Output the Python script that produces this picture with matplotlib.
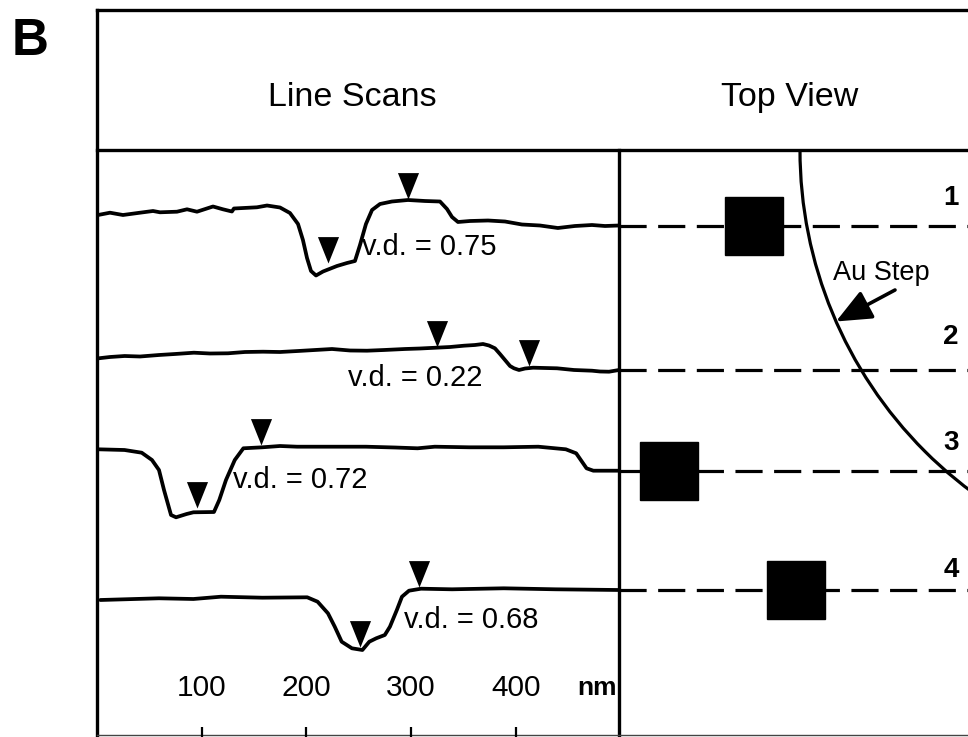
import matplotlib
matplotlib.use("Agg")
import matplotlib.pyplot as plt
from matplotlib.patches import Rectangle, Arc
from matplotlib.path import Path

plt.rcParams['font.family'] = ['Liberation Sans', 'DejaVu Sans']

# ---------------- data ----------------
# line scans: position along scan (nm) and relative height (a.u., 0 = right end level)
scan1_x = [1, 12.4, 24.8, 41.1, 53.5, 60.2, 76.4, 86.0, 95.5, 110.8, 120.3, 128.9, 130.8, 152.8,
           162.4, 174.8, 184.3, 192.0, 196.7, 200.6, 204.4, 209.2, 215.9, 229.2, 238.8, 246.4,
           251.2, 256.9, 262.7, 270.3, 281.7, 297.0, 313.3, 327.6, 334.3, 339.1, 344.8, 356.3,
           373.5, 389.7, 405.9, 423.1, 440.2, 456.5, 472.8, 485.2, 498.6]
scan1_z = [10.5, 12.8, 10.5, 12.8, 14.5, 13.2, 13.8, 16.2, 13.8, 19, 16.2, 14, 17, 18.2,
           20, 18, 12.5, 1.5, -14.5, -32.5, -45.5, -50, -46, -40.5, -37.5, -35.5,
           -19.5, 1.5, 15.5, 21.5, 24, 25.5, 24.5, 24, 16.5, 8.5, 3.5, 4.5,
           5, 4, 1, 0, -2.5, -0.5, 0.5, -0.5, 0]

scan2_x = [1.5, 12.4, 26.4, 41.1, 59.2, 74.5, 92.6, 107.9, 125.1, 141.3, 158.6, 174.8, 192,
           208.2, 224.5, 241.7, 257.9, 274.2, 294.2, 308.5, 323.8, 337.2, 350.5, 361, 368.7,
           374.4, 380.1, 384.9, 389.7, 394.5, 398.3, 403.1, 408.9, 416.5, 427.9, 439.4, 455.6,
           472.8, 480.5, 489.1, 498.6]
scan2_z = [11.7, 13, 14, 13.5, 15, 16, 17.3, 16.5, 16.7, 18, 18.3, 18, 19,
           20, 21, 19.5, 19.3, 20, 21, 21.5, 22.3, 23, 24.3, 25, 26,
           24.5, 21.7, 16, 10, 4, 1.7, 0, 1.5, 2.3, 2, 1.7, 0,
           -0.7, -1.5, -1.7, 0]

scan3_x = [1, 26.3, 42.7, 52.5, 59.2, 64, 70.7, 75.5, 85.6, 92.1, 111.7, 116.8, 123.2, 131.6,
           139.8, 158, 174.8, 191.1, 223.9, 256.8, 284.6, 306.2, 322.6, 355.6, 388.5, 421.5,
           447.8, 457.7, 467.6, 474.1, 498.6]
scan3_z = [21.4, 20.7, 18, 10.7, 0.7, -19.3, -44.3, -46.6, -43.3, -41.6, -41.3, -29.3, -9.3, 10.7,
           22.4, 23.4, 24.7, 24, 24, 24, 23.2, 22.4, 24, 23.4, 23.4, 24,
           21.4, 17.4, 2.4, 0, 0]

scan4_x = [3.2, 26.3, 59.2, 92.1, 118.4, 158, 200.8, 210.7, 220.6, 227.1, 233.7, 243.5, 253.5,
           260.1, 266.7, 274.9, 279.8, 286.4, 291.3, 298, 309.5, 339.1, 388.5, 437.9, 498.2]
scan4_z = [-10, -9.3, -8.3, -9, -6.7, -7.7, -7.3, -11.7, -23.3, -36.7, -51.7, -58.3, -60,
           -51.7, -48.3, -45, -36.7, -20, -6.7, -0.7, 1.3, 0.7, 1.7, 0.7, 0]

# arrowhead markers (tip position: nm, relative height)
marker_x = [[297.0, 220.3], [324.7, 413.0], [157.1, 95.9], [308.0, 251.5]]
marker_z = [[26.5, -37.5], [23.3, 4.0], [25.7, -37.3], [3.3, -56.7]]

vd_labels = ["v.d. = 0.75", "v.d. = 0.22", "v.d. = 0.72", "v.d. = 0.68"]
scan_numbers = ["1", "2", "3", "4"]
tick_values = [100, 200, 300, 400]

# top view: tip positions (x in top-view units); scan 2 has no tip
tip_x = [134.5, None, 50.0, 176.5]

# ---------------- layout ----------------
W, H = 968, 737
fig = plt.figure(figsize=(W / 100, H / 100), dpi=100)

# frame axes in pixel coordinates
axf = fig.add_axes([0, 0, 1, 1])
axf.set_xlim(0, W)
axf.set_ylim(H, 0)
axf.axis('off')
LW = 2.4
axf.plot([97, 97], [9.5, 737], color='black', lw=LW, solid_capstyle='projecting')
axf.plot([97, 968], [9.5, 9.5], color='black', lw=LW)
axf.plot([97, 968], [150, 150], color='black', lw=LW)
axf.plot([619, 619], [150, 737], color='black', lw=LW)
axf.plot([97, 968], [735, 735], color='#444444', lw=1.0)

axf.text(30, 41, "B", fontsize=37, fontweight='bold', va='center', ha='center')
axf.text(352, 97, "Line Scans", fontsize=24.5, va='center', ha='center')
axf.text(790, 97, "Top View", fontsize=24.5, va='center', ha='center')

# scan axes
panel_h = (737 - 150) / H
axs = fig.add_axes([97 / W, 0, (619 - 97) / W, panel_h])
axs.set_xlim(0, 498.6)
axs.set_ylim(0, 587)
axs.patch.set_alpha(0)
for sp in axs.spines.values():
    sp.set_visible(False)
axs.set_yticks([])
axs.set_xticks(tick_values)
axs.set_xticklabels([])
axs.tick_params(axis='x', direction='in', length=7, width=1.6, color='black')

levels = [511.5, 367.0, 266.3, 147.0]
scans_x = [scan1_x, scan2_x, scan3_x, scan4_x]
scans_z = [scan1_z, scan2_z, scan3_z, scan4_z]
vd_pos = [(253.1, -21.5), (239.7, -8.0), (129.9, -9.3), (293.2, -30.0)]

tri = Path([(-0.40, 1.0), (0.40, 1.0), (0.0, 0.0), (-0.40, 1.0)],
           [Path.MOVETO, Path.LINETO, Path.LINETO, Path.CLOSEPOLY])

for i in range(4):
    lev = levels[i]
    axs.plot(scans_x[i], [lev + z for z in scans_z[i]], color='black', lw=2.7,
             solid_joinstyle='round', solid_capstyle='round')
    axs.plot(marker_x[i], [lev + z for z in marker_z[i]], linestyle='none', marker=tri,
             markersize=38, color='black', markeredgewidth=0)
    axs.text(vd_pos[i][0], lev + vd_pos[i][1], vd_labels[i], fontsize=21,
             va='center', ha='left')

for v in tick_values:
    axs.text(v, 49, str(v), fontsize=21.5, ha='center', va='center')
axs.text(477.5, 49, "nm", fontsize=19, fontweight='bold', ha='center', va='center')

# top view axes
axt = fig.add_axes([619 / W, 0, (W - 619) / W, panel_h])
axt.set_xlim(0, W - 619)
axt.set_ylim(0, 587)
axt.axis('off')

for i in range(4):
    lev = levels[i]
    axt.plot([0, W - 619], [lev, lev], color='black', lw=2.3,
             linestyle=(0, (8.5, 3.6)), dash_capstyle='butt')
    if tip_x[i] is not None:
        s = 58
        axt.add_patch(Rectangle((tip_x[i] - s / 2, lev - s / 2), s, s,
                                facecolor='black', edgecolor='black', lw=1, zorder=3))

num_y = [539, 400, 294, 167]
for i in range(4):
    axt.text(332, num_y[i], scan_numbers[i], fontsize=20, fontweight='bold',
             ha='center', va='center')

# Au step edge (circular arc)
axt.add_patch(Arc((607, 587), 852, 852, theta1=180, theta2=270, color='black', lw=2.3,
                  clip_on=True))
axt.annotate("", xy=(217, 415.5), xytext=(276, 447),
             arrowprops=dict(arrowstyle='-|>,head_length=0.6,head_width=0.26',
                             color='black', lw=2.6, mutation_scale=36,
                             shrinkA=0, shrinkB=0))
axt.text(214, 464, "Au Step", fontsize=19.5, ha='left', va='center')

fig.savefig("out.png", dpi=100)
